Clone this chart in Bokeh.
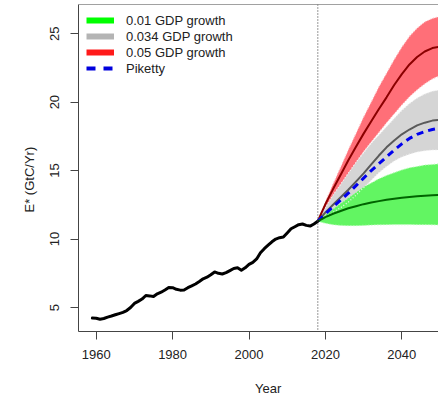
from bokeh.plotting import figure
from bokeh.models import (Span, Range1d, Legend, LegendItem, FixedTicker, Title,
                          LinearAxis)
from bokeh.embed import file_html
from bokeh.resources import INLINE

# Observed emissions E* (GtC/Yr), 1959-2018
hist_years = list(range(1959, 2019))
hist_values = [
    4.23, 4.22, 4.15, 4.20, 4.30, 4.38, 4.47, 4.56, 4.65, 4.78,
    5.00, 5.30, 5.45, 5.62, 5.88, 5.85, 5.80, 6.00, 6.12, 6.28,
    6.46, 6.45, 6.33, 6.27, 6.28, 6.45, 6.58, 6.72, 6.90, 7.10,
    7.22, 7.40, 7.60, 7.50, 7.45, 7.55, 7.70, 7.85, 7.90, 7.72,
    7.90, 8.15, 8.30, 8.55, 9.00, 9.30, 9.55, 9.80, 10.00, 10.10,
    10.15, 10.45, 10.75, 10.90, 11.05, 11.10, 11.00, 10.95, 11.10, 11.30,
]

# Projections from 2018 onwards
proj_years = [2018, 2020, 2022, 2024, 2026, 2028, 2030, 2032, 2034,
              2036, 2038, 2040, 2042, 2044, 2046, 2048, 2050]

# 0.05 GDP growth: central path and band
red_mid = [11.3, 12.55, 13.65, 14.7, 15.75, 16.75, 17.7, 18.6, 19.5,
           20.35, 21.25, 22.05, 22.75, 23.3, 23.7, 23.95, 24.05]
red_hi = [11.3, 12.7, 14.0, 15.25, 16.5, 17.7, 18.9, 20.0, 21.1,
          22.1, 23.1, 24.0, 24.8, 25.4, 25.85, 26.1, 26.25]
red_lo = [11.3, 12.3, 13.2, 14.0, 14.8, 15.6, 16.4, 17.1, 17.8,
          18.5, 19.15, 19.8, 20.4, 20.9, 21.35, 21.7, 21.95]

# 0.034 GDP growth
gray_mid = [11.3, 11.95, 12.5, 13.05, 13.6, 14.2, 14.8, 15.45, 16.1,
            16.7, 17.2, 17.65, 18.0, 18.3, 18.5, 18.65, 18.7]
gray_hi = [11.3, 12.3, 13.2, 14.0, 14.8, 15.6, 16.3, 17.0, 17.6,
           18.2, 18.8, 19.4, 19.9, 20.3, 20.6, 20.8, 20.9]
gray_lo = [11.3, 11.6, 11.95, 12.3, 12.7, 13.2, 13.75, 14.3, 14.85,
           15.3, 15.7, 16.0, 16.2, 16.35, 16.45, 16.5, 16.5]

# 0.01 GDP growth
green_mid = [11.3, 11.6, 11.85, 12.05, 12.25, 12.4, 12.55, 12.67, 12.77,
             12.87, 12.95, 13.02, 13.08, 13.13, 13.17, 13.2, 13.22]
green_hi = [11.3, 11.75, 12.2, 12.6, 13.0, 13.4, 13.8, 14.1, 14.4,
            14.65, 14.85, 15.05, 15.2, 15.3, 15.4, 15.45, 15.5]
green_lo = [11.3, 11.15, 11.05, 11.0, 10.98, 10.98, 11.0, 11.02, 11.04,
            11.05, 11.06, 11.06, 11.06, 11.05, 11.05, 11.04, 11.03]

# Piketty scenario
piketty = [11.3, 11.85, 12.35, 12.85, 13.35, 13.9, 14.45, 15.0, 15.5,
           16.0, 16.5, 16.95, 17.35, 17.65, 17.85, 18.0, 18.1]

x_ticks = [1960, 1980, 2000, 2020, 2040]
y_ticks = [5, 10, 15, 20, 25]
legend_labels = ["0.01 GDP growth", "0.034 GDP growth", "0.05 GDP growth", "Piketty"]

FONT = "Liberation Sans"
X0, X1 = 1955.37, 2049.6
Y0, Y1 = 3.25, 27.13

p = figure(width=438, height=398, output_backend="svg", toolbar_location=None,
           x_range=Range1d(X0, X1), y_range=Range1d(Y0, Y1),
           min_border_left=78, min_border_right=0, min_border_top=4,
           min_border_bottom=66)
p.outline_line_color = None
p.grid.visible = False
p.background_fill_color = "white"
p.border_fill_color = "white"

for ax, ticks in ((p.xaxis, x_ticks), (p.yaxis, y_ticks)):
    ax.ticker = FixedTicker(ticks=ticks)
    ax.axis_line_color = "#444444"
    ax.axis_line_width = 1
    ax.major_tick_line_color = "#444444"
    ax.major_tick_out = 8
    ax.major_tick_in = 0
    ax.minor_tick_out = 0
    ax.minor_tick_in = 0
    ax.major_label_text_font = FONT
    ax.major_label_text_font_size = "13px"
    ax.major_label_text_color = "#222222"
p.xaxis.major_label_standoff = 10
p.yaxis.major_label_standoff = 11
p.yaxis.major_label_orientation = "vertical"

# x-axis title, set as a single label on a bare axis under the main one
title_axis = LinearAxis(ticker=FixedTicker(ticks=[2005]),
                        major_label_overrides={2005: "Year"},
                        axis_line_color=None, major_tick_line_color=None,
                        major_tick_out=0, major_tick_in=0,
                        minor_tick_out=0, minor_tick_in=0,
                        major_label_standoff=19,
                        major_label_text_font=FONT,
                        major_label_text_font_size="13px",
                        major_label_text_color="#222222")
p.add_layout(title_axis, "below")

# top edge of the box
p.add_layout(Span(location=Y1, dimension="width", line_color="#444444", line_width=1))

# uncertainty bands
bands = [
    (red_lo, red_hi, "#ff6f78", "#ffb3b8"),
    (gray_lo, gray_hi, "#d5d5d5", "#f2f2f2"),
    (green_lo, green_hi, "#62f562", "#b8fbb8"),
]
for lo, hi, fill, edge in bands:
    p.varea(x=proj_years, y1=lo, y2=hi, fill_color=fill, fill_alpha=1.0)
for lo, hi, fill, edge in bands:
    p.line(proj_years, lo, line_color=edge, line_width=1.2, line_dash="1 2")
    p.line(proj_years, hi, line_color=edge, line_width=1.2, line_dash="1 2")

# start of projections
p.add_layout(Span(location=2018, dimension="height", line_color="#555555",
                  line_width=1.2, line_dash="1 2"))

# central paths
p.line(proj_years, red_mid, line_color="#8b0000", line_width=2)
p.line(proj_years, gray_mid, line_color="#5a5a5a", line_width=2)
p.line(proj_years, piketty, line_color="#0000ee", line_width=3, line_dash="7 5")
p.line(proj_years, green_mid, line_color="#006400", line_width=2)

# observed series
p.line(hist_years, hist_values, line_color="black", line_width=3,
       line_join="round", line_cap="round")

# legend keys (drawn outside the visible range, shown only in the legend)
kx, ky = [1900, 1901], [-50, -50]
key_green = p.line(kx, ky, line_color="#00ff00", line_width=6)
key_gray = p.line(kx, ky, line_color="#b4b4b4", line_width=6)
key_red = p.line(kx, ky, line_color="#ff1a1a", line_width=6)
key_blue = p.line(kx, ky, line_color="#0000dd", line_width=4, line_dash="9 8")
legend = Legend(
    items=[LegendItem(label=lab, renderers=[r]) for lab, r in
           zip(legend_labels, [key_green, key_gray, key_red, key_blue])],
    location="top_left",
    border_line_color=None, background_fill_alpha=0,
    label_text_font=FONT, label_text_font_size="13px", label_text_color="#222222",
    glyph_width=28, glyph_height=16, label_height=16, spacing=0,
    padding=2, margin=8, label_standoff=12,
)
p.add_layout(legend)

# y-axis title
p.add_layout(Title(text="E* (GtC/Yr)", align="left", offset=119, standoff=21,
                   text_font=FONT, text_font_size="13px", text_font_style="normal",
                   text_color="#222222"), "left")

open("out.html", "w").write(file_html(p, INLINE))
